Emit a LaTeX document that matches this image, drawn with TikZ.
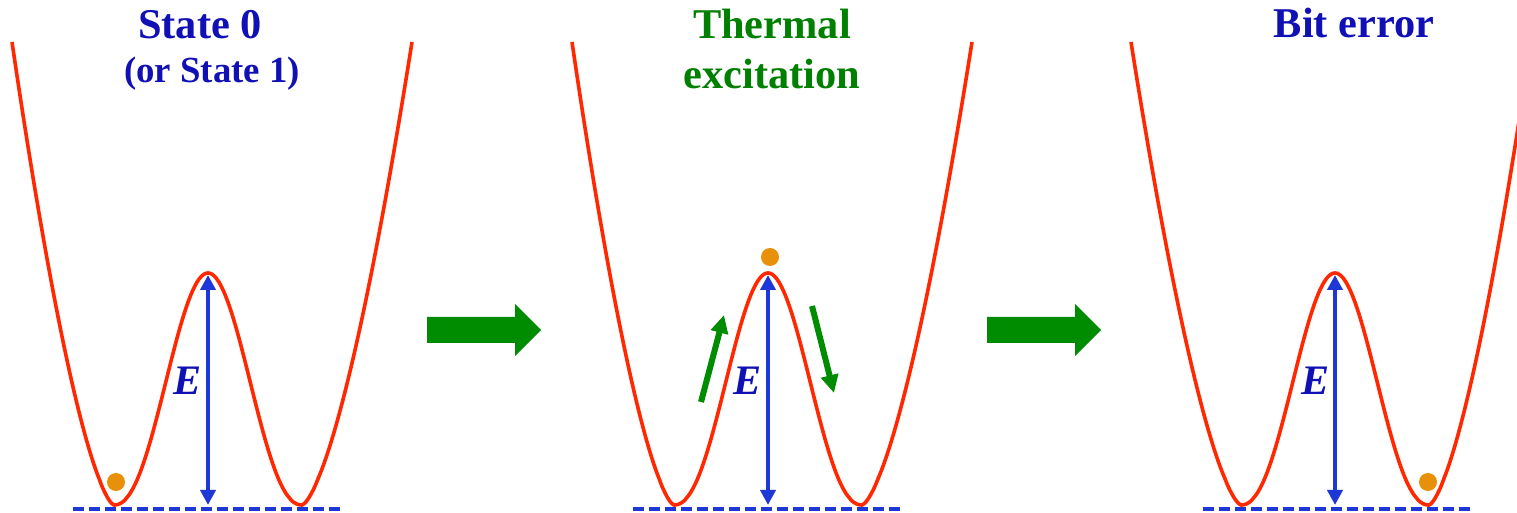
\documentclass[tikz,border=0pt]{standalone}
\usepackage{fontspec}
\setmainfont{Liberation Serif}
\usetikzlibrary{arrows.meta}
\definecolor{titleblue}{RGB}{16,16,180}
\definecolor{arrblue}{RGB}{30,55,215}
\definecolor{wellred}{RGB}{255,40,0}
\definecolor{tgreen}{RGB}{0,128,0}
\definecolor{agreen}{RGB}{0,140,0}
\definecolor{ballorange}{RGB}{232,144,10}
\tikzset{
  wellline/.style={draw=wellred, line width=1.8pt, line join=round},
  baseline dash/.style={draw=arrblue, line width=1.8pt, dash pattern=on 5.7pt off 2.3pt},
  energy/.style={draw=arrblue, line width=2pt, {Triangle[length=7.5pt,width=7.5pt]}-{Triangle[length=7.5pt,width=7.5pt]}},
  elabel/.style={text=titleblue, font=\fontsize{21}{24}\selectfont\bfseries\itshape, anchor=base, inner sep=0pt},
  title/.style={font=\fontsize{21.2}{25}\selectfont\bfseries, anchor=base, inner sep=0pt},
  subtitle/.style={font=\fontsize{18.4}{22}\selectfont\bfseries, anchor=base, inner sep=0pt},
  ball/.style={circle, fill=ballorange, minimum size=9pt, inner sep=0pt},
  blockarrow/.style={fill=agreen},
  motion/.style={draw=agreen, line width=3pt, -{Triangle[length=9pt,width=8.5pt]}},
}
% #1 centre x, #2 left end u, #3 left span, #4 right end u, #5 right span
\newcommand\drawwell[5]{%
  \draw[wellline, shift={(#1,0)}]
    plot[domain=#2:-94.02, samples=50] (\x, {505-463*pow((-\x-94)/#3,1.5)})
    -- plot[domain=-93.98:-0.02, samples=70] (\x, {505-116*(1-cos(180*pow((\x+94)/94,1.1)))})
    -- plot[domain=0.02:93.98, samples=70] (\x, {505-116*(1-cos(180*pow((94-\x)/94,1.1)))})
    -- plot[domain=94.02:#4, samples=50] (\x, {505-463*pow((\x-94)/#5,1.5)});
}
\begin{document}
\begin{tikzpicture}[x=0.5pt, y=-0.5pt]
\useasboundingbox (0,0) rectangle (1517,513);
\clip (0,0) rectangle (1517,513);
\fill[white] (0,0) rectangle (1517,513);

% ---------- Panel 1 ----------
\drawwell{208}{-196}{102}{204}{110}
\draw[baseline dash] (73,509) -- (340,509);
\coordinate (p1top) at (208,275);
\coordinate (p1bot) at (208,505);
\draw[energy] (p1bot) -- (p1top);
\node[elabel] (e1) at (188,395) {E};
\node[ball] (b1) at (116,482) {};
\node[title, text=titleblue] (t1) at (200,39) {State 0};
\node[subtitle, text=titleblue] (t1b) at (212,83) {(or State 1)};

% block arrow 1
\fill[blockarrow] (427,317) -- (515,317) -- (515,304) -- (541,330) -- (515,356) -- (515,343) -- (427,343) -- cycle;

% ---------- Panel 2 ----------
\drawwell{768}{-196}{102}{204}{110}
\draw[baseline dash] (633,509) -- (900,509);
\coordinate (p2top) at (768,275);
\coordinate (p2bot) at (768,505);
\draw[energy] (p2bot) -- (p2top);
\node[elabel] (e2) at (748,395) {E};
\node[ball] (b2) at (770,257) {};
\node[title, text=tgreen] (t2) at (772,39) {Thermal};
\node[title, text=tgreen] (t2b) at (772,89) {excitation};
\coordinate (up0) at (701,402);
\coordinate (up1) at (724,315);
\draw[motion] (up0) -- (up1);
\coordinate (dn0) at (812,306);
\coordinate (dn1) at (834,393);
\draw[motion] (dn0) -- (dn1);

% block arrow 2
\fill[blockarrow] (987,317) -- (1075,317) -- (1075,304) -- (1101,330) -- (1075,356) -- (1075,343) -- (987,343) -- cycle;

% ---------- Panel 3 ----------
\drawwell{1335}{-204}{110}{196}{102}
\draw[baseline dash] (1203,509) -- (1472,509);
\coordinate (p3top) at (1335,275);
\coordinate (p3bot) at (1335,505);
\draw[energy] (p3bot) -- (p3top);
\node[elabel] (e3) at (1315,395) {E};
\node[ball] (b3) at (1428,482) {};
\node[title, text=titleblue] (t3) at (1354,38) {Bit error};
\end{tikzpicture}
\end{document}
